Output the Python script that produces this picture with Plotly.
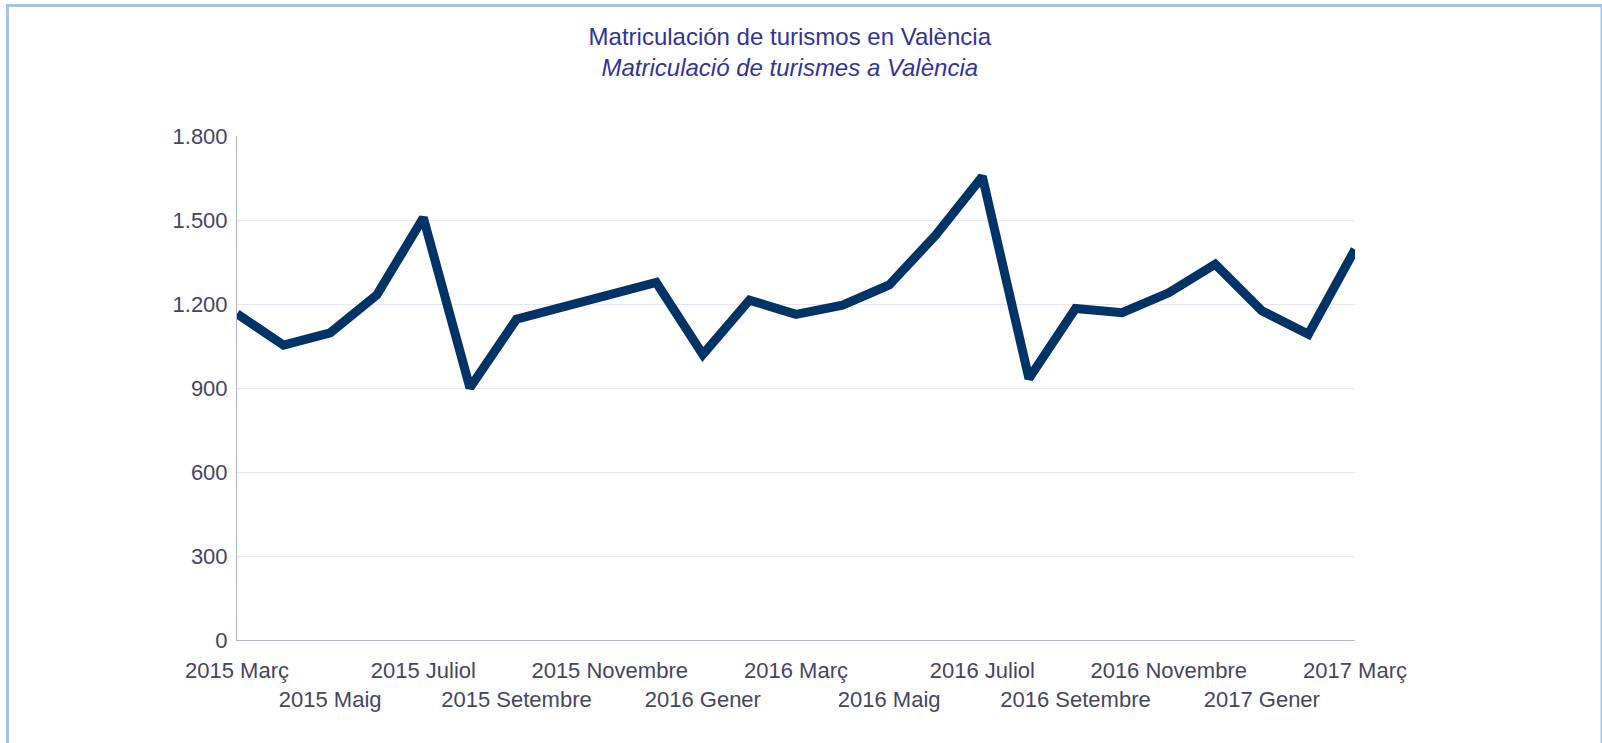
"""Line chart: monthly car registrations in València (Mar 2015 - Mar 2017)."""

import plotly.graph_objects as go

months = [
    "2015 Març", "2015 Abril", "2015 Maig", "2015 Juny", "2015 Juliol",
    "2015 Agost", "2015 Setembre", "2015 Octubre", "2015 Novembre",
    "2015 Desembre", "2016 Gener", "2016 Febrer", "2016 Març", "2016 Abril",
    "2016 Maig", "2016 Juny", "2016 Juliol", "2016 Agost", "2016 Setembre",
    "2016 Octubre", "2016 Novembre", "2016 Desembre", "2017 Gener",
    "2017 Febrer", "2017 Març",
]
registrations = [
    1165, 1053, 1097, 1232, 1508, 901, 1146, 1190, 1238, 1277, 1020, 1214,
    1163, 1196, 1268, 1446, 1655, 934, 1184, 1169, 1240, 1342, 1176, 1092,
    1395,
]

# every second month labelled, alternating between two rows
tick_vals = months[::2]
tick_text = [m if i % 2 == 0 else "<br>" + m for i, m in enumerate(tick_vals)]

FONT = "Liberation Sans, Arial, sans-serif"
TEXT = "#464660"

fig = go.Figure(go.Scatter(
    x=months,
    y=registrations,
    mode="lines",
    line=dict(color="#003366", width=9),
    hoverinfo="x+y",
))

# light-blue frame around the whole chart (plot area is 237..1355 x 136..640 px)
W, H = 1118, 504
fig.add_shape(
    type="rect", xref="paper", yref="paper",
    x0=(7.5 - 237) / W, x1=(1602 - 237) / W,
    y0=(640 - 760) / H, y1=(640 - 5.5) / H,
    line=dict(color="#a6c2de", width=3),
    fillcolor="rgba(0,0,0,0)",
    layer="below",
)

fig.update_layout(
    width=1602,
    height=743,
    separators=",.",
    title=dict(
        text="Matriculación de turismos en València<br><i>Matriculació de turismes a València</i>",
        x=0.493, xanchor="center",
        y=1 - 45 / 743, yanchor="middle",
        font=dict(family=FONT, size=24, color="#333399"),
    ),
    font=dict(family=FONT, size=22, color=TEXT),
    paper_bgcolor="white",
    plot_bgcolor="white",
    showlegend=False,
    margin=dict(l=237, r=247, t=136, b=103),
    xaxis=dict(
        type="category",
        range=[0, len(months) - 1],
        tickmode="array",
        tickvals=tick_vals,
        ticktext=tick_text,
        tickangle=0,
        showgrid=False,
        showline=True,
        linecolor="#b0b4cc",
        linewidth=1,
        ticks="outside",
        ticklen=11,
        tickcolor="rgba(0,0,0,0)",
        tickfont=dict(family=FONT, size=22, color=TEXT),
    ),
    yaxis=dict(
        range=[0, 1800],
        dtick=300,
        tickformat=",d",
        showgrid=True,
        gridcolor="#e6e6ee",
        gridwidth=1,
        zeroline=False,
        showline=True,
        linecolor="#b0b4cc",
        linewidth=1,
        ticks="outside",
        ticklen=4,
        tickcolor="rgba(0,0,0,0)",
        tickfont=dict(family=FONT, size=22, color=TEXT),
    ),
)

# drop the browser's default 8px body margin so the figure sits at the page origin
fig.write_html(
    "out.html",
    config={"displayModeBar": False},
    post_script="document.body.style.margin = '0';",
)
